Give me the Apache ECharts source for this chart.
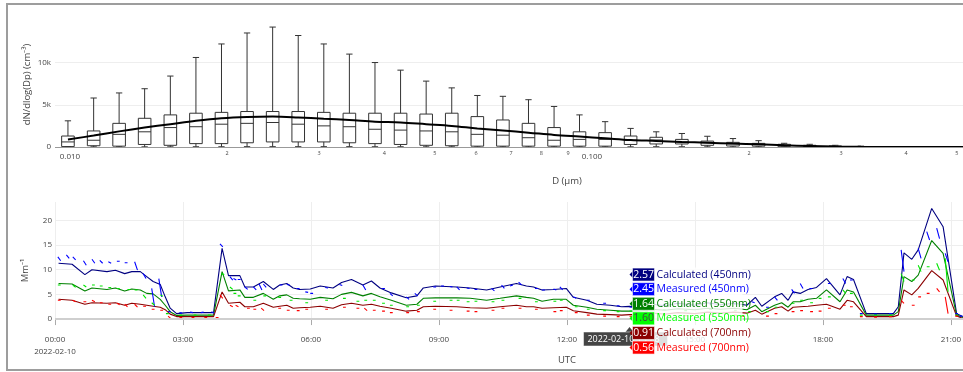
<!DOCTYPE html>
<html>
<head>
<meta charset="utf-8">
<title>Size distribution and scattering</title>
<style>
  html, body { margin: 0; padding: 0; background: #fff; overflow: hidden; }
  #frame { position: absolute; left: 6px; top: 3px; width: 1100px; height: 364px; border: 2px solid #9d9d9d; }
  #chart { position: absolute; left: 0; top: 0; width: 963px; height: 372px; }
</style>
</head>
<body>
<div id="frame"></div>
<div id="chart"></div>
<script src="https://cdn.jsdelivr.net/npm/echarts@6/dist/echarts.min.js"></script>
<script>
// ---- size distribution (top) ----
// bin mid diameters in µm, box stats in cm-3
const diameters = [0.00991, 0.01110, 0.01242, 0.01390, 0.01557, 0.01743, 0.01951, 0.02184, 0.02445, 0.02737,
  0.03064, 0.03430, 0.03840, 0.04299, 0.04813, 0.05388, 0.06032, 0.06752, 0.07559, 0.08462,
  0.09467, 0.1060, 0.1186, 0.1328, 0.1487, 0.1664, 0.1863, 0.2086, 0.2335, 0.2614, 0.2926, 0.3276];
const boxLow = [10, 20, 20, 20, 20, 30, 30, 40, 40, 40, 40, 40, 30, 30, 20, 20, 10, 10, 10, 10,
  10, 10, 20, 30, 30, 20, 10, 10, 10, 5, 3, 2];
const boxQ1 = [50, 150, 100, 300, 200, 400, 400, 500, 600, 600, 600, 500, 400, 300, 200, 150, 100, 100, 100, 100,
  100, 100, 300, 360, 360, 200, 120, 100, 80, 50, 30, 20];
const boxMedian = [600, 800, 1500, 1800, 2300, 2400, 2700, 2800, 2900, 2700, 2500, 2400, 2100, 2000, 1900, 1800, 1500, 1400, 1100, 800,
  900, 900, 800, 830, 600, 500, 360, 280, 200, 120, 80, 40];
const boxQ3 = [1300, 1900, 2800, 3400, 3800, 4000, 4100, 4200, 4200, 4200, 4100, 4000, 4000, 4000, 3900, 4000, 3600, 3200, 2800, 2300,
  1800, 1700, 1300, 1150, 900, 700, 550, 430, 320, 200, 120, 60];
const boxHigh = [3100, 5800, 6400, 6900, 8400, 10600, 12200, 13500, 14200, 13200, 12200, 11000, 10000, 9100, 7800, 7000, 6100, 6000, 5600, 4800,
  3800, 3000, 2200, 1800, 1600, 1270, 1000, 750, 440, 320, 200, 100];
// fitted curve at the bin diameters, then a short tail
const fitValues = [900, 1350, 1850, 2300, 2700, 3100, 3400, 3550, 3600, 3500, 3350, 3200, 3000, 2900, 2700, 2500, 2200, 1950, 1700, 1430,
  1230, 1030, 830, 720, 600, 500, 400, 320, 200, 120, 50, 20];
const tailDiameters = [0.37, 0.42, 0.52];
const tailFit = [8, 2, 0];
const sizeTicks = [0.01, 0.02, 0.03, 0.04, 0.05, 0.06, 0.07, 0.08, 0.09, 0.1, 0.2, 0.3, 0.4, 0.5];
const countTicks = [0, 5000, 10000];

// ---- scattering time series (bottom) ----
const calcTimes = ['00:05','00:24','00:42','00:52','01:13','01:25','01:38','01:48','02:00','02:09',
  '02:18','02:28','02:35','02:42','02:51','03:06','03:24','03:43','03:45','03:55',
  '04:04','04:20','04:27','04:39','04:53','05:07','05:16','05:26','05:35','05:44',
  '05:59','06:13','06:31','06:43','06:57','07:13','07:25','07:37','07:53','08:14',
  '08:29','08:38','08:55','09:25','09:44','10:07','10:26','10:49','11:03','11:13',
  '11:25','11:41','11:59','12:09','12:28','12:42','13:01','13:17','13:28','13:42',
  '14:00','14:18','14:36','15:00','15:18','15:36','15:56','16:13','16:25','16:34',
  '16:52','17:02','17:11','17:18','17:28','17:39','17:51','18:05','18:24','18:34',
  '18:43','19:01','19:39','19:46','19:54','20:05','20:14','20:33','20:49','21:08','21:17'];
const calc450 = [11.3,11.1,9.0,10.0,9.6,9.9,9.2,9.6,9.6,8.6, 7.6,7.0,4.5,2.2,1.1,1.3,1.3,1.3,1.5,14.3,
  8.8,8.8,6.5,6.5,7.6,6.0,6.9,7.2,6.3,6.0, 6.1,6.7,6.3,7.4,8.0,6.9,7.7,6.3,5.3,4.3,
  4.7,6.3,6.7,6.5,6.3,5.9,6.5,7.2,6.7,6.5, 5.9,6.0,6.2,4.4,3.8,3.0,2.8,2.5,2.57,2.4,
  3.0,2.7,3.2,2.8,3.3,2.9,3.2,2.8,4.4,2.6, 4.5,5.2,3.8,5.5,5.2,6.0,6.4,8.2,4.9,8.6,
  8.0,1.1,1.1,2.5,13.4,12.1,14.0,22.4,18.7,1.1,0.5];
const calc550 = [7.2,7.1,5.7,6.3,6.0,6.3,5.7,6.1,5.9,5.2, 5.1,4.0,2.8,1.5,0.74,0.8,0.8,0.8,1.0,9.6,
  5.7,5.9,4.4,4.4,5.2,4.0,4.7,4.9,4.2,4.1, 4.0,4.4,4.1,5.0,5.4,4.7,5.2,4.5,3.8,2.8,
  3.0,4.2,4.3,4.3,4.2,3.8,4.2,4.7,4.4,4.2, 3.6,4.0,4.0,2.8,2.4,2.0,1.8,1.6,1.64,1.6,
  2.0,1.8,2.1,1.9,2.2,2.0,2.2,1.9,2.8,1.5, 2.8,3.3,2.4,3.5,3.5,4.0,4.2,5.9,3.5,5.9,
  5.5,0.8,0.8,1.5,8.6,7.6,8.9,15.9,13.3,0.8,0.3];
const calc700 = [4.0,3.8,3.0,3.3,3.2,3.3,2.8,3.2,3.0,2.8, 2.6,2.4,1.9,1.0,0.5,0.5,0.5,0.5,0.6,5.5,
  3.2,3.4,2.5,2.5,3.2,2.4,2.6,2.8,2.2,2.3, 2.4,2.6,2.2,2.9,3.2,2.8,3.0,2.6,2.2,1.6,
  1.8,2.5,2.6,2.5,2.3,2.2,2.5,2.8,2.5,2.5, 2.2,2.3,2.4,1.7,1.3,1.0,0.9,0.8,0.91,0.9,
  1.2,1.0,1.3,1.1,1.4,1.2,1.4,1.2,1.8,1.0, 2.2,2.5,1.6,2.4,2.5,2.6,2.8,3.0,2.0,3.8,
  3.5,0.5,0.5,0.8,5.9,4.9,6.2,9.8,7.9,0.6,0.1];
// measured: short pieces [start, value at start, value at end]
const meas450 = [['00:04',12.6,11.8],['00:16',13.0,12.3],['00:25',12.6,12.0],['00:40',11.8,10.9],['00:52',12.1,11.3],
  ['01:03',11.9,11.3],['01:15',11.6,11.3],['01:27',11.7,11.7],['01:38',11.4,11.4],['01:52',11.6,9.9],
  ['02:04',9.2,8.2],['02:16',6.2,2.5],['02:26',8.2,4.5],['02:39',1.5,1.5],['02:55',1.3,1.2],['03:10',1.4,1.3],
  ['03:25',1.3,1.4],['03:40',1.5,1.2],['03:52',15.2,14.6],['04:06',8.6,7.9],['04:11',8.2,7.9],['04:17',8.0,8.0],
  ['04:27',6.5,6.0],['04:39',6.5,5.9],['04:47',7.1,5.9],['04:53',7.1,6.4],['05:16',6.9,6.9],['05:26',7.0,6.9],
  ['05:40',6.2,6.2],['05:52',5.5,5.4],['05:59',5.2,5.2],['06:20',6.4,6.3],['06:40',7.0,6.8],['07:13',6.9,5.9],
  ['07:40',6.2,6.2],['07:51',5.2,4.7],['08:14',4.5,4.0],['08:26',5.2,4.7],['08:52',6.5,6.5],['09:03',6.7,6.7],
  ['09:15',6.6,6.5],['09:25',6.5,5.9],['09:39',6.3,6.2],['09:50',6.0,6.0],['10:14',6.2,5.7],['10:28',6.9,6.2],
  ['10:40',6.7,6.9],['10:52',7.5,6.9],['11:15',6.2,6.2],['11:25',5.9,5.9],['11:41',6.1,5.9],['11:50',6.5,5.9],
  ['12:09',4.5,4.2],['12:28',3.8,3.8],['12:51',3.2,3.2],['13:10',2.7,2.7],['13:28',2.45,2.4],['13:50',2.6,2.6],
  ['14:15',3.0,2.9],['14:45',2.7,2.7],['15:20',3.1,3.0],['15:55',3.0,3.1],['16:20',3.5,3.3],['16:40',2.4,2.4],
  ['16:52',4.5,3.8],['17:16',6.0,5.2],['17:28',7.2,6.2],['17:41',6.2,6.2],['18:07',7.2,7.2],['18:28',8.2,7.2],
  ['18:38',7.9,7.9],['18:52',1.1,1.1],['19:12',1.0,1.0],['19:33',1.1,1.1],['19:50',14.0,9.6],['20:14',14.3,12.3],
  ['20:26',17.7,16.0],['20:40',18.4,16.3],['20:52',13.3,11.6],['21:06',1.1,1.1],['21:12',0.6,0.6]];
const meas550 = [['00:04',6.9,6.9],['00:25',6.9,6.4],['00:40',6.9,6.5],['00:52',6.9,6.9],['01:03',6.7,6.7],
  ['01:15',6.4,6.4],['01:27',6.2,6.2],['01:42',6.0,6.0],['01:52',5.9,5.9],['02:04',4.9,4.2],['02:16',3.3,2.8],
  ['02:28',4.9,4.6],['02:36',1.1,1.1],['02:55',0.8,0.8],['03:15',0.8,0.8],['03:35',0.8,0.8],['03:54',9.2,9.0],
  ['04:06',6.5,6.0],['04:11',5.2,5.2],['04:17',4.7,4.7],['04:39',3.8,3.8],['04:53',4.7,4.7],['05:14',4.4,4.4],
  ['05:30',3.8,3.8],['05:52',3.3,3.3],['06:20',3.8,3.8],['06:45',4.2,4.2],['07:04',3.6,3.6],['07:15',3.8,3.8],
  ['07:27',3.8,3.8],['07:40',3.2,3.2],['07:51',2.8,2.8],['08:14',2.5,2.5],['08:29',2.8,2.8],['08:52',3.6,3.6],
  ['09:15',3.8,3.8],['09:25',3.8,3.8],['09:39',3.5,3.5],['09:50',3.6,3.6],['10:14',3.5,3.5],['10:28',3.8,3.8],
  ['10:52',4.2,4.2],['11:15',3.5,3.5],['11:41',3.6,3.6],['11:50',3.8,3.8],['12:11',2.5,2.5],['12:28',2.0,2.0],
  ['12:51',1.7,1.7],['13:10',1.5,1.5],['13:28',1.6,1.6],['13:50',1.6,1.6],['14:15',1.9,1.9],['14:45',1.7,1.7],
  ['15:20',2.0,2.0],['15:55',1.8,1.8],['16:15',1.5,1.5],['16:40',1.5,1.5],['16:52',2.4,2.4],['17:16',3.2,3.2],
  ['17:28',3.8,3.8],['17:42',3.3,3.3],['17:54',4.2,4.2],['18:07',4.5,4.5],['18:28',5.9,5.2],['18:38',5.2,5.2],
  ['18:52',0.8,0.8],['19:12',0.8,0.8],['19:33',0.8,0.8],['19:50',9.2,7.6],['20:05',7.9,7.9],['20:14',10.9,9.6],
  ['20:26',10.6,10.6],['20:40',11.3,9.9],['20:52',12.3,5.5],['21:06',0.8,0.8]];
const meas700 = [['00:04',3.8,3.8],['00:25',3.8,3.5],['00:40',3.5,3.5],['00:52',3.8,3.5],['01:03',3.3,3.3],
  ['01:15',3.0,3.0],['01:27',3.2,2.9],['01:38',3.0,2.5],['01:52',3.0,2.4],['02:04',2.6,2.6],['02:16',2.0,2.0],
  ['02:28',1.8,1.8],['02:39',0.6,0.1],['02:55',0.3,0.3],['03:12',0.3,0.3],['03:30',0.3,0.3],['03:46',0.3,0.3],
  ['03:52',4.9,4.2],['04:06',2.8,2.5],['04:14',2.8,2.5],['04:30',2.2,2.2],['04:39',2.0,2.0],['04:50',2.2,1.7],
  ['05:14',2.2,2.2],['05:26',1.8,1.8],['05:40',1.7,1.7],['05:52',2.0,2.0],['06:20',2.0,2.0],['06:45',2.4,2.4],
  ['07:04',2.2,2.2],['07:15',2.2,1.7],['07:27',1.8,1.8],['07:40',1.6,1.6],['07:51',1.3,1.3],['08:14',1.3,1.3],
  ['08:29',1.5,1.5],['08:52',2.0,2.0],['09:15',1.8,1.8],['09:39',1.6,1.6],['09:50',1.5,1.5],['10:14',1.8,1.8],
  ['10:28',2.2,2.2],['10:52',2.2,2.2],['11:15',2.0,2.0],['11:41',1.5,1.5],['11:50',1.7,1.7],['12:11',1.3,1.3],
  ['12:28',0.8,0.8],['12:51',0.6,0.6],['13:10',0.5,0.5],['13:28',0.56,0.56],['13:50',0.6,0.6],['14:15',0.8,0.8],
  ['14:45',0.7,0.7],['15:20',0.9,0.9],['15:55',0.8,0.8],['16:05',0.6,0.6],['16:40',0.6,0.6],['16:52',1.1,1.1],
  ['17:16',1.5,1.5],['17:28',1.7,1.7],['17:42',1.5,1.5],['17:54',1.6,1.6],['18:07',2.2,2.2],['18:28',2.8,2.8],
  ['18:38',2.5,2.5],['18:52',0.5,0.5],['19:12',0.4,0.4],['19:33',0.5,0.5],['19:50',3.8,3.2],['20:05',2.8,2.8],
  ['20:14',4.5,4.5],['20:26',5.2,5.2],['20:40',6.2,5.5],['20:52',4.5,1.1],['21:06',0.6,0.6]];
const timeTicks = ['00:00','03:00','06:00','09:00','12:00','15:00','18:00','21:00'];
const scatTicks = [0, 5, 10, 15, 20];
const hoverTime = '13:28';

const FONT = "'Open Sans', 'Liberation Sans', sans-serif";
const TICK = '#444';
const GRID = '#eeeeee';
const BOX_W = 12.6;
const SEG_MS = 4 * 60000;
const C = {
  c450: '#000080', m450: '#0000ff',
  c550: '#008000', m550: '#00e600',
  c700: '#8b0000', m700: '#ff0000'
};

const T = hm => Date.UTC(2022, 1, 10, +hm.slice(0, 2), +hm.slice(3, 5));
const lg = d => Math.log10(d);

const boxData = diameters.map((d, i) => [lg(d), boxLow[i], boxQ1[i], boxMedian[i], boxQ3[i], boxHigh[i]]);
const fitData = diameters.concat(tailDiameters).map((d, i) => [lg(d), fitValues.concat(tailFit)[i]]);
const calcData = vals => calcTimes.map((hm, i) => [T(hm), vals[i]]);
const measData = segs => {
  const out = [];
  segs.forEach(s => {
    const t = T(s[0]);
    out.push([t, s[1]], [t + SEG_MS, s[2]], [t + SEG_MS + 1000, null]);
  });
  return out;
};

function renderBox(params, api) {
  const x = api.coord([api.value(0), 0])[0];
  const y = k => api.coord([api.value(0), api.value(k)])[1];
  const yLow = y(1), yQ1 = y(2), yMed = y(3), yQ3 = y(4), yHigh = y(5);
  const hw = BOX_W / 2, cw = BOX_W / 4;
  const style = { stroke: '#333', lineWidth: 1, fill: 'rgba(0,0,0,0)' };
  return {
    type: 'group',
    children: [
      { type: 'line', shape: { x1: x, y1: yLow, x2: x, y2: yQ1 }, style },
      { type: 'line', shape: { x1: x, y1: yQ3, x2: x, y2: yHigh }, style },
      { type: 'line', shape: { x1: x - cw, y1: yHigh, x2: x + cw, y2: yHigh }, style },
      { type: 'line', shape: { x1: x - cw, y1: yLow, x2: x + cw, y2: yLow }, style },
      { type: 'rect', shape: { x: x - hw, y: yQ3, width: BOX_W, height: yQ1 - yQ3 }, style },
      { type: 'line', shape: { x1: x - hw, y1: yMed, x2: x + hw, y2: yMed }, style }
    ]
  };
}

function sizeLabel(v) {
  const e = Math.floor(v + 1e-9);
  const m = Math.round(Math.pow(10, v - e));
  if (m === 1) return '{big|' + Math.pow(10, v).toFixed(3) + '}';
  return '{small|' + m + '}';
}

function timeLabel(v) {
  const d = new Date(v);
  const s = String(d.getUTCHours()).padStart(2, '0') + ':' + String(d.getUTCMinutes()).padStart(2, '0');
  return v === T('00:00') ? s + '\n2022-02-10' : s;
}

const line = (name, data, color, xi) => ({
  name, type: 'line', xAxisIndex: xi, yAxisIndex: xi, data,
  symbol: 'none', connectNulls: false, animation: false,
  lineStyle: { color, width: 1.1 }, itemStyle: { color }
});

const chart = echarts.init(document.getElementById('chart'));
chart.setOption({
  animation: false,
  textStyle: { fontFamily: FONT },
  grid: [
    { left: 55, right: 0, top: 22, height: 125, outerBoundsMode: 'none' },
    { left: 55, right: 0, top: 202, height: 123, outerBoundsMode: 'none' }
  ],
  xAxis: [
    {
      type: 'value', gridIndex: 0, min: lg(0.00936), max: lg(0.514),
      name: 'D (µm)', nameLocation: 'middle', nameGap: 29, nameMoveOverlap: false,
      nameTextStyle: { color: TICK, fontSize: 9.5, fontFamily: FONT, padding: [0, 0, 0, 116] },
      axisLine: { show: false }, axisTick: { show: false }, splitLine: { show: false },
      axisLabel: {
        customValues: sizeTicks.map(lg), margin: 3, formatter: sizeLabel,
        rich: {
          big: { fontSize: 8, color: TICK, fontFamily: FONT, padding: [3, 0, 0, 0] },
          small: { fontSize: 5.5, color: TICK, fontFamily: FONT }
        }
      }
    },
    {
      type: 'value', gridIndex: 1, min: T('00:00'), max: T('21:17'),
      name: 'UTC', nameLocation: 'middle', nameGap: 30, nameMoveOverlap: false,
      nameTextStyle: { color: TICK, fontSize: 9.5, fontFamily: FONT, padding: [0, 0, 0, 116] },
      axisLine: { show: false },
      axisTick: { show: true, customValues: timeTicks.map(T), length: 6, lineStyle: { color: '#aaa' } },
      splitLine: { show: true, lineStyle: { color: GRID, width: 1 } },
      axisLabel: {
        customValues: timeTicks.map(T), margin: 9, formatter: timeLabel,
        color: TICK, fontSize: 8, lineHeight: 12, fontFamily: FONT
      }
    }
  ],
  yAxis: [
    {
      type: 'value', gridIndex: 0, min: 0, max: 14800,
      name: 'dN/dlog(Dp) (cm⁻³)', nameLocation: 'middle', nameGap: 23, nameMoveOverlap: false,
      nameTextStyle: { color: TICK, fontSize: 9.5, fontFamily: FONT },
      axisLine: { show: false },
      axisTick: { show: false, customValues: countTicks },
      splitLine: { show: true, lineStyle: { color: GRID, width: 1 } },
      axisLabel: {
        customValues: countTicks, margin: 4, color: TICK, fontSize: 8, fontFamily: FONT,
        formatter: v => (v === 0 ? '0' : v / 1000 + 'k')
      }
    },
    {
      type: 'value', gridIndex: 1, min: -1.2, max: 23.7,
      name: 'Mm⁻¹', nameLocation: 'middle', nameGap: 25, nameMoveOverlap: false,
      nameTextStyle: { color: TICK, fontSize: 9.5, fontFamily: FONT, padding: [0, 14, 0, 0] },
      axisLine: { show: false },
      axisTick: { show: false, customValues: scatTicks },
      splitLine: { show: true, lineStyle: { color: GRID, width: 1 } },
      axisLabel: { customValues: scatTicks, margin: 3, color: TICK, fontSize: 8, fontFamily: FONT }
    }
  ],
  series: [
    {
      name: 'boxes', type: 'custom', xAxisIndex: 0, yAxisIndex: 0,
      data: boxData, renderItem: renderBox, encode: { x: 0, y: [1, 2, 3, 4, 5] },
      animation: false, silent: true, z: 3
    },
    {
      name: 'fit', type: 'line', xAxisIndex: 0, yAxisIndex: 0, data: fitData,
      symbol: 'none', smooth: 0.35, animation: false, z: 4,
      lineStyle: { color: '#000', width: 2 },
      markLine: {
        silent: true, symbol: 'none', label: { show: false }, animation: false,
        lineStyle: { color: '#999', width: 1, type: 'solid' }, data: [{ yAxis: 0 }]
      }
    },
    Object.assign(line('Calculated (450nm)', calcData(calc450), C.c450, 1), {
      markLine: {
        silent: true, symbol: 'none', label: { show: false }, animation: false,
        lineStyle: { color: '#cfcfcf', width: 2, type: 'solid' }, data: [{ yAxis: 0 }]
      }
    }),
    line('Calculated (550nm)', calcData(calc550), C.c550, 1),
    line('Calculated (700nm)', calcData(calc700), C.c700, 1),
    line('Measured (450nm)', measData(meas450), C.m450, 1),
    line('Measured (550nm)', measData(meas550), C.m550, 1),
    line('Measured (700nm)', measData(meas700), C.m700, 1)
  ]
});

// static hover labels at one time step
const hi = calcTimes.indexOf(hoverTime);
const measAt = segs => segs.find(s => s[0] === hoverTime)[1];
const hover = [
  { name: 'Calculated (450nm)', v: calc450[hi], color: C.c450, text: '#fff' },
  { name: 'Measured (450nm)', v: measAt(meas450), color: C.m450, text: '#fff' },
  { name: 'Calculated (550nm)', v: calc550[hi], color: C.c550, text: '#fff' },
  { name: 'Measured (550nm)', v: measAt(meas550), color: '#00ff00', text: '#444' },
  { name: 'Calculated (700nm)', v: calc700[hi], color: C.c700, text: '#fff' },
  { name: 'Measured (700nm)', v: measAt(meas700), color: C.m700, text: '#fff' }
];
const px = (t, v) => chart.convertToPixel({ gridIndex: 1 }, [t, v]);
const ht = T(hoverTime);
const x0 = px(ht, 0)[0];
const yBottom = px(ht, -1.2)[1];
const STEP = 14.6;
const HFONT = '10.5px ' + FONT;
const yMean = hover.reduce((s, h) => s + px(ht, h.v)[1], 0) / hover.length;
const yc = i => yMean + (i - (hover.length - 1) / 2) * STEP;

const g = [];
// x hover label
g.push({ type: 'polygon', z: 50, shape: { points: [[x0, yBottom + 2], [x0 - 4, yBottom + 7], [x0 + 4, yBottom + 7]] }, style: { fill: '#444' } });
g.push({ type: 'rect', z: 50, shape: { x: x0 - 46, y: yBottom + 7, width: 84, height: 14 }, style: { fill: '#444', stroke: '#fff', lineWidth: 0.5 } });
g.push({ type: 'text', z: 51, x: x0 - 6, y: yBottom + 14, style: { text: '2022-02-10 ' + hoverTime, fill: '#fff', font: '9px ' + FONT, align: 'center', verticalAlign: 'middle' } });
// faded area behind the value labels
g.push({ type: 'rect', z: 52, shape: { x: x0 + 3, y: yc(0) - 7, width: 110, height: yc(hover.length - 1) - yc(0) + 15 }, style: { fill: 'rgba(255,255,255,0.82)' } });
hover.forEach((h, i) => {
  const y = yc(i);
  g.push({ type: 'polygon', z: 53, shape: { points: [[x0, y], [x0 + 4, y - 4], [x0 + 4, y + 4]] }, style: { fill: h.color } });
  g.push({ type: 'rect', z: 53, shape: { x: x0 + 3, y: y - 6.5, width: 22, height: 13 }, style: { fill: h.color, stroke: '#fff', lineWidth: 0.6 } });
  g.push({ type: 'text', z: 54, x: x0 + 14, y: y, style: { text: h.v.toFixed(2), fill: h.text, font: HFONT, align: 'center', verticalAlign: 'middle' } });
  g.push({ type: 'text', z: 54, x: x0 + 27, y: y, style: { text: h.name, fill: h.color, font: HFONT, align: 'left', verticalAlign: 'middle' } });
});
chart.setOption({ graphic: g });
</script>
</body>
</html>
